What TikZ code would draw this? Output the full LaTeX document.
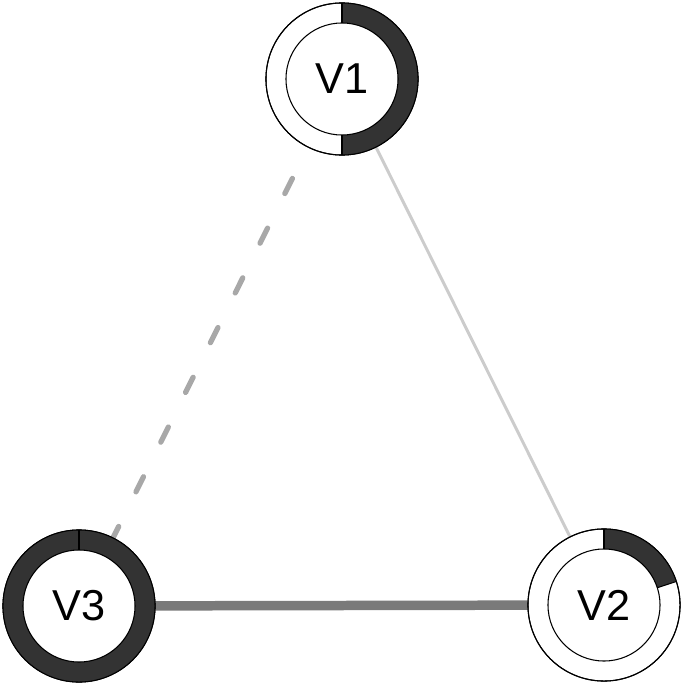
\documentclass[tikz,border=0pt]{standalone}
\usepackage{fontspec}
\setmainfont{Liberation Sans}
\usetikzlibrary{backgrounds}
\definecolor{piedark}{HTML}{333333}
\definecolor{edgemid}{HTML}{7A7A7A}
\definecolor{edgedash}{HTML}{A8A8A8}
\definecolor{edgelight}{HTML}{CCCCCC}
\tikzset{
  vertex/.style={circle, draw, line width=0.3pt, fill=white, minimum size=1.52cm, inner sep=0pt, font=\fontsize{12.3}{14}\selectfont},
  pie/.style={draw=piedark, line width=0.2cm},
  rim/.style={line width=0.3pt},
}
\begin{document}
\begin{tikzpicture}[x=0.01cm, y=-0.01cm]
\useasboundingbox (0,0) rectangle (685,685);
\node[vertex] (V1) at (342,79) {V1};
\node[vertex] (V2) at (604,605) {V2};
\node[vertex] (V3) at (79,606) {V3};
\begin{scope}[on background layer]
\draw[edgelight, line width=0.85pt] (V1.center) -- (V2.center);
\draw[edgedash, line width=1.5pt, line cap=round, dash pattern=on 4.8pt off 11pt] (V1.center) -- (V3.center);
\draw[edgemid, line width=2.7pt] (V3.center) -- (V2.center);
\end{scope}
% pie rings
\foreach \v/\f in {V1/0.5, V2/0.2, V3/1} {
    \draw[pie] (\v.center) ++(90:0.66cm) arc[start angle=90, delta angle={-360*\f}, radius=0.66cm];
    \draw[rim] (\v.center) circle[radius=0.76cm];
    \draw[rim] (\v.center) circle[radius=0.56cm];
    \draw[rim] (\v.center) ++(90:0.56cm) -- ++(90:0.2cm);
    \draw[rim] (\v.center) ++({90-360*\f}:0.56cm) -- ++({90-360*\f}:0.2cm);
}
\end{tikzpicture}
\end{document}
